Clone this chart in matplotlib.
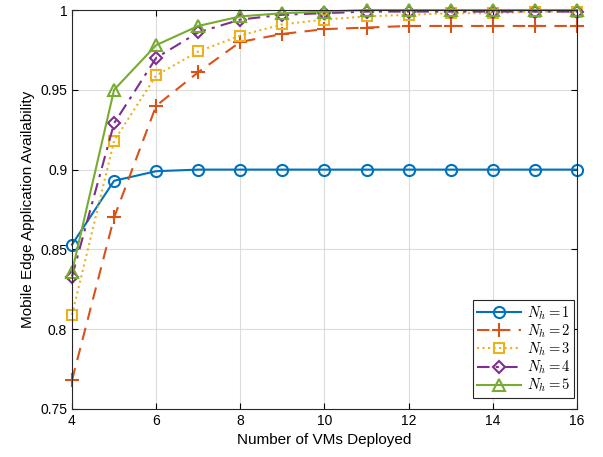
import numpy as np
import matplotlib.pyplot as plt

plt.rcParams['font.family'] = ['Liberation Sans', 'DejaVu Sans']
plt.rcParams['mathtext.fontset'] = 'cm'

# Number of VMs deployed
vms = [4, 5, 6, 7, 8, 9, 10, 11, 12, 13, 14, 15, 16]

# Availability for each number of hosts N_h
avail_nh1 = [0.853, 0.893, 0.899, 0.900, 0.900, 0.900, 0.900, 0.900, 0.900, 0.900, 0.900, 0.900, 0.900]
avail_nh2 = [0.768, 0.870, 0.940, 0.961, 0.980, 0.985, 0.988, 0.989, 0.990, 0.990, 0.990, 0.990, 0.990]
avail_nh3 = [0.809, 0.918, 0.959, 0.974, 0.984, 0.991, 0.994, 0.996, 0.997, 0.998, 0.998, 0.999, 0.999]
avail_nh4 = [0.833, 0.929, 0.970, 0.986, 0.994, 0.997, 0.998, 0.999, 0.999, 0.999, 0.999, 0.999, 0.999]
avail_nh5 = [0.836, 0.950, 0.978, 0.990, 0.996, 0.998, 0.999, 1.000, 1.000, 1.000, 1.000, 1.000, 1.000]

series = [avail_nh1, avail_nh2, avail_nh3, avail_nh4, avail_nh5]
labels = [r'$N_h = %d$' % k for k in range(1, 6)]
colors = ['#0072BD', '#D95319', '#EDB120', '#7E2F8E', '#77AC30']
styles = ['-', (0, (6, 4)), ':', (0, (6, 3, 1.5, 3)), '-']
markers = ['o', '+', 's', 'D', '^']
msizes = [8, 10, 6.5, 6.5, 8.5]

fig = plt.figure(figsize=(6.03, 4.57), dpi=100)
ax = fig.add_axes([72/603, 1-409/457, 505/603, 399/457])

for ys, lab, c, ls, m, ms in zip(series, labels, colors, styles, markers, msizes):
    ax.plot(vms, ys, linestyle=ls, color=c, marker=m, markersize=ms,
            markerfacecolor='none', markeredgewidth=1.5, linewidth=1.5,
            label=lab, clip_on=False)

ax.set_xlim(4, 16)
ax.set_ylim(0.75, 1.0)
ax.set_xticks(range(4, 17, 2))
ax.set_yticks([0.75, 0.8, 0.85, 0.9, 0.95, 1.0])
ax.set_yticklabels(['0.75', '0.8', '0.85', '0.9', '0.95', '1'])
ax.grid(True, color='#dcdcdc', linewidth=0.8)
ax.set_axisbelow(True)
ax.tick_params(direction='in', labelsize=10, top=True, right=True, length=4)
for sp in ax.spines.values():
    sp.set_linewidth(0.8)
    sp.set_color('#262626')
ax.set_xlabel('Number of VMs Deployed', fontsize=11)
ax.set_ylabel('Mobile Edge Application Availability', fontsize=11)

leg = ax.legend(loc='lower right', fontsize=10.5, fancybox=False, framealpha=1,
                edgecolor='#262626', handlelength=3.0, borderpad=0.25,
                labelspacing=0.05, handletextpad=0.4, borderaxespad=0.2,
                bbox_to_anchor=(1.0, 0.02))
leg.get_frame().set_linewidth(0.8)
leg.set_zorder(5)

fig.savefig('out.png', dpi=100)
